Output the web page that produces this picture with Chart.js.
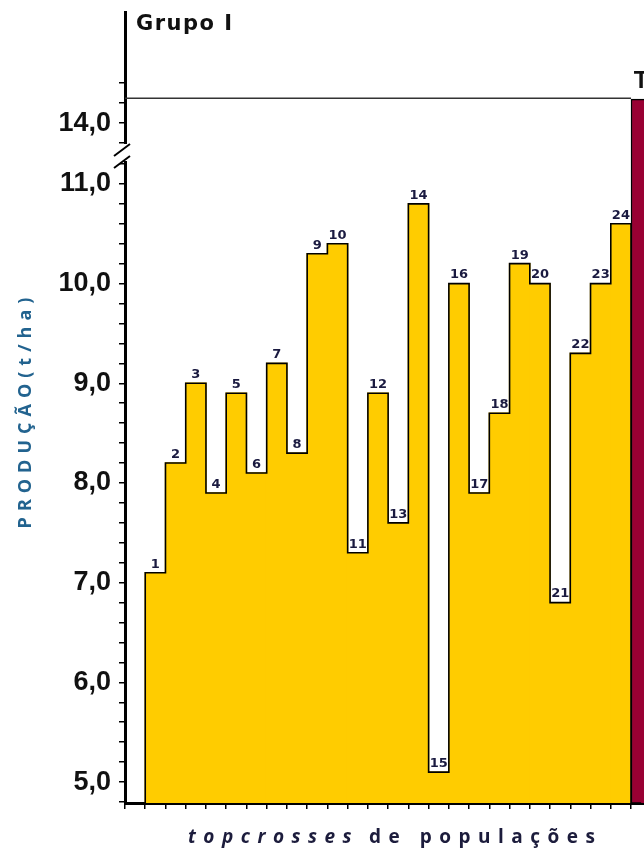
<!DOCTYPE html>
<html><head><meta charset="utf-8">
<script src="https://cdn.jsdelivr.net/npm/chart.js@4/dist/chart.umd.min.js"></script>
<style>
html,body{margin:0;padding:0;background:#fff;overflow:hidden;width:644px;height:855px}
#wrap{position:absolute;left:0;top:0;width:680px;height:855px}
</style>
</head><body><div id="wrap"><canvas id="c" width="680" height="855"></canvas></div>
<script>
// ---- data ----
const categories = ['', '1','2','3','4','5','6','7','8','9','10','11','12','13','14','15','16','17','18','19','20','21','22','23','24', 'T', ''];
const production = [7.1, 8.2, 9.0, 7.9, 8.9, 8.1, 9.2, 8.3, 10.3, 10.4, 7.3, 8.9, 7.6, 10.8, 5.1, 10.0, 7.9, 8.7, 10.2, 10.0, 6.8, 9.3, 10.0, 10.6];
const checkLabel = 'T';
const checkValue = 14.24;
const groupTitle = 'Grupo I';
const yTitle = 'PRODUÇÃO(t/ha)';
const xTitleItalic = 'topcrosses';
const xTitleRest = 'de populações';
const lowerRange = [4.79, 11.32];
const upperRange = [13.71, 15.114];
const upperTickMax = 14.4;
const tickStep = 0.2;

// ---- derived series ----
const barValues = categories.map((c, i) => (i >= 1 && i <= production.length) ? production[i - 1] : null);
// outline of the step area: closes down to the axis minimum on both ends
const outlineValues = categories.map((c, i) => barValues[i] != null ? barValues[i]
  : ((i === 0 || i === production.length + 1) ? lowerRange[0] : null));
const checkValues = categories.map(c => c === checkLabel ? checkValue : null);

const fmt = v => Math.abs(v - Math.round(v)) < 1e-6 ? v.toFixed(1).replace('.', ',') : '';
const onStep = s => { s.ticks = s.ticks.filter(t => Math.abs(t.value / tickStep - Math.round(t.value / tickStep)) < 1e-6); };

const LOWER_PX = 651, UPPER_PX = 140;

const yCommon = {
  type: 'linear', position: 'left', stack: 'prod', z: 1,
  grid: { drawOnChartArea: false, drawTicks: true, tickLength: 6, color: '#000', lineWidth: 1.5 },
  border: { color: '#000', width: 3 },
  ticks: { stepSize: tickStep, includeBounds: false, autoSkip: false, maxTicksLimit: 200, padding: 8,
    color: '#111', font: { family: 'Liberation Sans', weight: 'bold', size: 27 }, callback: fmt },
  afterFit(s) { s.width = 125; s.paddingTop = 0; s.paddingBottom = 0; }
};

const decor = {
  id: 'decor',
  afterDatasetsDraw(chart) {
    const ctx = chart.ctx, ca = chart.chartArea;
    const y2 = chart.scales.y2;
    const metaC = chart.getDatasetMeta(2);
    const el = metaC.data[categories.indexOf(checkLabel)];
    const yRef = y2.getPixelForValue(checkValue);
    ctx.save();
    ctx.strokeStyle = '#333'; ctx.lineWidth = 1.5;
    ctx.beginPath(); ctx.moveTo(ca.left, yRef - 1); ctx.lineTo(el.x - el.width / 2, yRef - 1); ctx.stroke();
    const meta = chart.getDatasetMeta(0);
    ctx.fillStyle = '#1a1a40';
    ctx.font = 'bold 13px "DejaVu Sans"';
    ctx.textAlign = 'center'; ctx.textBaseline = 'bottom';
    meta.data.forEach((b, i) => {
      if (barValues[i] == null) return;
      ctx.fillText(categories[i], b.x, b.y - 2);
    });
    ctx.fillStyle = '#111';
    ctx.font = 'bold 24px "Liberation Sans"';
    ctx.fillText(checkLabel, el.x, el.y - 6);
    ctx.restore();
  },
  afterDraw(chart) {
    const ctx = chart.ctx, ca = chart.chartArea;
    ctx.save();
    const yb = chart.scales.y2.bottom;
    ctx.fillStyle = '#fff';
    ctx.fillRect(ca.left - 5, yb - 8, 10, 17);
    ctx.strokeStyle = '#000'; ctx.lineWidth = 2;
    ctx.beginPath();
    ctx.moveTo(ca.left - 11, yb + 4); ctx.lineTo(ca.left + 5, yb - 8);
    ctx.moveTo(ca.left - 11, yb + 16); ctx.lineTo(ca.left + 5, yb + 4);
    ctx.stroke();
    ctx.fillStyle = '#111';
    ctx.font = 'bold 21px "DejaVu Sans"';
    ctx.letterSpacing = '1.5px';
    ctx.textAlign = 'left'; ctx.textBaseline = 'alphabetic';
    ctx.fillText(groupTitle, ca.left + 11, 30);
    ctx.save();
    ctx.translate(26, 413);
    ctx.rotate(-Math.PI / 2);
    ctx.fillStyle = '#22638f';
    ctx.font = 'bold 18px "Open Sans"';
    ctx.letterSpacing = '6px';
    ctx.textAlign = 'center'; ctx.textBaseline = 'middle';
    ctx.fillText(yTitle, 3, 0);
    ctx.restore();
    ctx.fillStyle = '#1c1c3c';
    ctx.letterSpacing = '7.5px';
    ctx.textBaseline = 'alphabetic'; ctx.textAlign = 'left';
    ctx.font = 'italic bold 19px "Open Sans"';
    ctx.fillText(xTitleItalic, 188, 843);
    const w = ctx.measureText(xTitleItalic).width;
    ctx.font = 'bold 19px "Open Sans"';
    ctx.fillText(xTitleRest, 188 + w + 10, 843);
    ctx.restore();
  }
};

new Chart(document.getElementById('c'), {
  data: {
    labels: categories,
    datasets: [
      { type: 'bar', data: barValues, yAxisID: 'y', backgroundColor: '#FFCC00', borderWidth: 0,
        inflateAmount: 0.7, categoryPercentage: 1, barPercentage: 1, grouped: false, clip: 0, order: 3 },
      { type: 'line', data: outlineValues, yAxisID: 'y', stepped: 'middle', borderColor: '#000', borderWidth: 1.6,
        pointRadius: 0, fill: false, order: 1 },
      { type: 'bar', data: checkValues, yAxisID: 'y2', base: 0, backgroundColor: '#990033', borderColor: '#000',
        borderWidth: { top: 1.5, left: 1.5, right: 1.5 }, borderSkipped: 'start',
        categoryPercentage: 1, barPercentage: 1, grouped: false,
        clip: { left: 0, top: 0, right: 0, bottom: LOWER_PX }, order: 2 }
    ]
  },
  options: {
    responsive: false, animation: false, devicePixelRatio: 1,
    layout: { padding: { top: 12, left: 0, right: 8.5, bottom: 0 } },
    plugins: { legend: { display: false }, tooltip: { enabled: false } },
    scales: {
      x: { type: 'category', offset: true, z: 1,
        grid: { offset: true, drawOnChartArea: false, drawTicks: true, tickLength: 6, color: '#000', lineWidth: 1.5 },
        border: { color: '#000', width: 3 },
        ticks: { display: false },
        afterFit(s) { s.height = 52; s.paddingLeft = 0; s.paddingRight = 0; } },
      y2: Object.assign({}, yCommon, { min: upperRange[0], max: upperRange[1], stackWeight: UPPER_PX, weight: 2,
        afterBuildTicks(s) { onStep(s); s.ticks = s.ticks.filter(t => t.value <= upperTickMax + 1e-6); } }),
      y: Object.assign({}, yCommon, { min: lowerRange[0], max: lowerRange[1], stackWeight: LOWER_PX, weight: 1,
        afterBuildTicks: onStep })
    }
  },
  plugins: [decor]
});
</script>
</body></html>
